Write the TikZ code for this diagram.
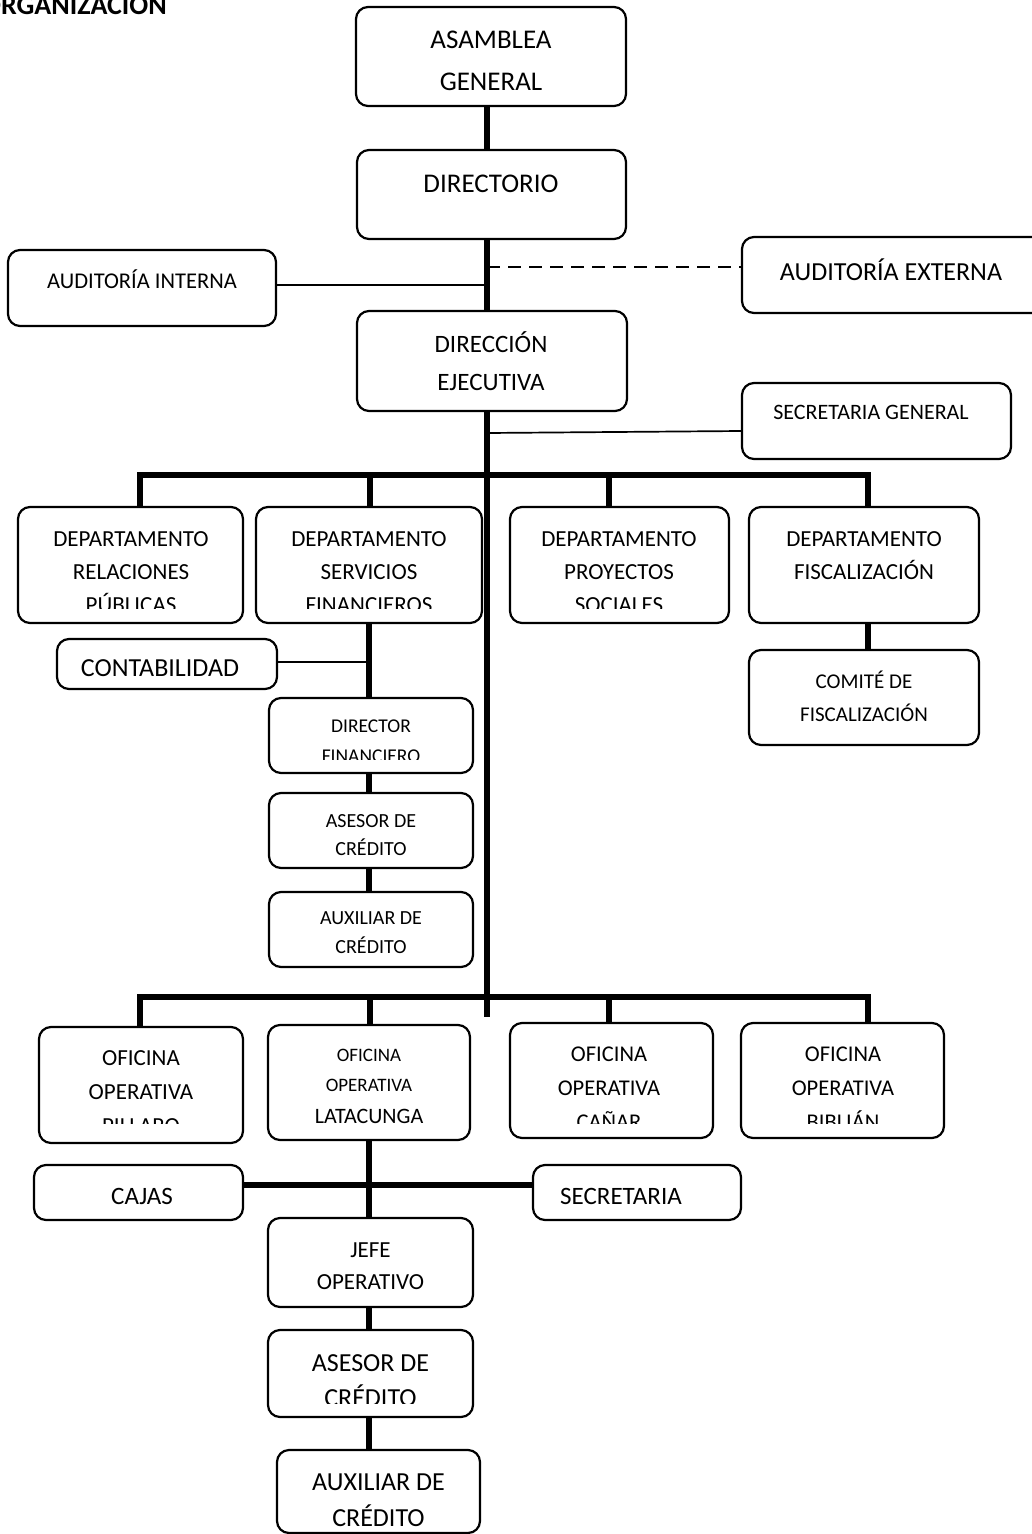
\documentclass[tikz,border=0pt]{standalone}
\usepackage{fontspec}
\setmainfont{Carlito}
\usepackage{tikz}
\newcommand{\setfs}[2]{\fontsize{#1}{#2}\selectfont}

\begin{document}
\begin{tikzpicture}[x=1pt,y=-1pt,
  box/.style={draw, rounded corners=12pt, line width=2.2pt, inner sep=0pt},
  txt/.style={align=center, inner sep=0pt},
  thk/.style={line width=6.5pt},
  thn/.style={line width=1.7pt}]
\useasboundingbox (0,0) rectangle (1031,1534);

% TITLE
  \node[anchor=base east, inner sep=0pt, font=\bfseries\setfs{28}{32}] (titulo) at (167,14) {ORGANIZACIÓN};

% TOP LEVELS
  \node[box, minimum width=270pt, minimum height=99pt] (asamblea) at (491,56.5) {};
  \node[txt, font=\setfs{27}{42}] (asamblea-t) at (491,61) {ASAMBLEA\\GENERAL};
  \node[box, minimum width=269pt, minimum height=89pt] (directorio) at (491.5,194.5) {};
  \node[txt, font=\setfs{27}{32}] (directorio-t) at (491,184) {DIRECTORIO};
  \node[box, minimum width=270pt, minimum height=100pt] (direccion) at (492,361) {};
  \node[txt, font=\setfs{25}{38}] (direccion-t) at (491,361) {DIRECCIÓN\\EJECUTIVA};

% STAFF
  \node[box, minimum width=268pt, minimum height=76pt] (interna) at (142,288) {};
  \node[txt, font=\setfs{22.5}{28}] (interna-t) at (142,279) {AUDITORÍA INTERNA};
  \node[box, minimum width=303pt, minimum height=76pt] (externa) at (893.5,275) {};
  \node[txt, font=\setfs{26}{30}] (externa-t) at (891,270) {AUDITORÍA EXTERNA};
  \node[box, minimum width=269pt, minimum height=76pt] (secgen) at (876.5,421) {};
  \node[txt, font=\setfs{22}{28}] (secgen-t) at (871,412) {SECRETARIA GENERAL};

% DEPARTMENTS
  \node[box, minimum width=225pt, minimum height=116pt] (relpub) at (130.5,565) {};
  \node[box, minimum width=226pt, minimum height=116pt] (servfin) at (369,565) {};
  \node[box, minimum width=219pt, minimum height=116pt] (proyectos) at (619.5,565) {};
  \node[box, minimum width=230pt, minimum height=116pt] (fisc) at (864,565) {};
  \begin{scope}
    \clip (0,500) rectangle (1031,608);
    \node[txt, font=\setfs{23}{33}] (relpub-t) at (131,572) {DEPARTAMENTO\\RELACIONES\\PÚBLICAS};
    \node[txt, font=\setfs{23}{33}] (servfin-t) at (369,572) {DEPARTAMENTO\\SERVICIOS\\FINANCIEROS};
    \node[txt, font=\setfs{23}{33}] (proyectos-t) at (619,572) {DEPARTAMENTO\\PROYECTOS\\SOCIALES};
  \end{scope}
  \node[txt, font=\setfs{23}{33}] (fisc-t) at (864,555.5) {DEPARTAMENTO\\FISCALIZACIÓN};
  \node[box, minimum width=230pt, minimum height=95pt] (comite) at (864,697.5) {};
  \node[txt, font=\setfs{21}{33}] (comite-t) at (864,696.5) {COMITÉ DE\\FISCALIZACIÓN};

% FINANCE BRANCH
  \node[box, minimum width=220pt, minimum height=50pt] (contab) at (167,664) {};
  \node[txt, font=\setfs{26}{30}] (contab-t) at (160,668) {CONTABILIDAD};
  \node[box, minimum width=204pt, minimum height=75pt] (dirfin) at (371,735.5) {};
  \begin{scope}
    \clip (269,698) rectangle (473,759.5);
    \node[txt, font=\setfs{19.5}{30}] (dirfin-t) at (371,741) {DIRECTOR\\FINANCIERO};
  \end{scope}
  \node[box, minimum width=204pt, minimum height=75pt] (asesor1) at (371,830.5) {};
  \node[txt, font=\setfs{20}{28}] (asesor1-t) at (371,835) {ASESOR DE\\CRÉDITO};
  \node[box, minimum width=204pt, minimum height=75pt] (aux1) at (371,929.5) {};
  \node[txt, font=\setfs{20}{29}] (aux1-t) at (371,932.5) {AUXILIAR DE\\CRÉDITO};

% OFFICES
  \node[box, minimum width=204pt, minimum height=116pt] (pillaro) at (141,1085) {};
  \node[box, minimum width=202pt, minimum height=115pt] (latacunga) at (369,1082.5) {};
  \node[box, minimum width=203pt, minimum height=115pt] (canar) at (611.5,1080.5) {};
  \node[box, minimum width=203pt, minimum height=115pt] (biblian) at (842.5,1080.5) {};
  \begin{scope}
    \clip (0,1015) rectangle (1031,1123.5);
    \node[txt, font=\setfs{23}{34}] (pillaro-t) at (141,1092) {OFICINA\\OPERATIVA\\PILLARO};
    \node[txt, font=\setfs{22.5}{34}] (canar-t) at (609,1088) {OFICINA\\OPERATIVA\\CAÑAR};
    \node[txt, font=\setfs{22.5}{34}] (biblian-t) at (843,1088) {OFICINA\\OPERATIVA\\BIBLIÁN};
  \end{scope}
  \node[txt, font=\setfs{19}{30}] (latacunga-t) at (369,1086.5) {OFICINA\\OPERATIVA\\[2pt]{\setfs{22}{30}LATACUNGA}};

% LATACUNGA BRANCH
  \node[box, minimum width=209pt, minimum height=55pt] (cajas) at (138.5,1192.5) {};
  \node[txt, font=\setfs{25}{30}] (cajas-t) at (142,1196) {CAJAS};
  \node[box, minimum width=208pt, minimum height=55pt] (secret) at (637,1192.5) {};
  \node[txt, font=\setfs{25}{30}] (secret-t) at (621,1196) {SECRETARIA};
  \node[box, minimum width=205pt, minimum height=89pt] (jefe) at (370.5,1262.5) {};
  \node[txt, font=\setfs{23}{32}] (jefe-t) at (370.5,1266) {JEFE\\OPERATIVO};
  \node[box, minimum width=205pt, minimum height=87pt] (asesor2) at (370.5,1373.5) {};
  \begin{scope}
    \clip (268,1330) rectangle (473,1403);
    \node[txt, font=\setfs{26}{35}] (asesor2-t) at (370.5,1380.5) {ASESOR DE\\CRÉDITO};
  \end{scope}
  \node[box, minimum width=203pt, minimum height=83pt] (aux2) at (378.5,1491.5) {};
  \begin{scope}
    \clip (277,1450) rectangle (480,1526);
    \node[txt, font=\setfs{26}{36}] (aux2-t) at (378.5,1500) {AUXILIAR DE\\CRÉDITO};
  \end{scope}

% TRUNK
  \coordinate (trunk) at (487,1017);
  \draw[thk] (asamblea.south -| trunk) -- (directorio.north -| trunk);
  \draw[thk] (directorio.south -| trunk) -- (direccion.north -| trunk);
  \draw[thk] (direccion.south -| trunk) -- (trunk);

% STAFF LINES
  \draw[thn] ([yshift=3pt]interna.east) -- ([yshift=3pt]interna.east -| trunk);
  \draw[line width=2.7pt, dash pattern=on 13pt off 8pt] ([yshift=8pt]externa.west -| trunk) -- ([yshift=8pt]externa.west);
  \draw[thn] ([yshift=-12pt]secgen.west -| trunk) -- ([yshift=-10pt]secgen.west);

% BUS 1
  \coordinate (b1) at (140,475);
  \coordinate (b2) at (370,475);
  \coordinate (b3) at (609,475);
  \coordinate (b4) at (868,475);
  \draw[thk] (b1 |- relpub.north) -- (b1) -- (b4) -- (b4 |- fisc.north);
  \draw[thk] (b2) -- (b2 |- servfin.north);
  \draw[thk] (b3) -- (b3 |- proyectos.north);
  \draw[thk] (b4 |- fisc.south) -- (b4 |- comite.north);

% FINANCE LINES
  \draw[thn] ([yshift=2pt]contab.east) -- ([yshift=2pt]contab.east -| servfin.south);
  \draw[thk] (servfin.south) -- (servfin.south |- dirfin.north);
  \draw[thk] (servfin.south |- dirfin.south) -- (servfin.south |- asesor1.north);
  \draw[thk] (servfin.south |- asesor1.south) -- (servfin.south |- aux1.north);

% BUS 2
  \coordinate (c1) at (140,997);
  \coordinate (c2) at (370,997);
  \coordinate (c3) at (609,997);
  \coordinate (c4) at (868,997);
  \draw[thk] (c1 |- pillaro.north) -- (c1) -- (c4) -- (c4 |- biblian.north);
  \draw[thk] (c2) -- (c2 |- latacunga.north);
  \draw[thk] (c3) -- (c3 |- canar.north);

% LATACUNGA LINES
  \draw[thk] (latacunga.south) -- (latacunga.south |- jefe.north);
  \draw[thk] ([yshift=7.5pt]cajas.east) -- ([yshift=7.5pt]secret.west);
  \draw[thk] (latacunga.south |- jefe.south) -- (latacunga.south |- asesor2.north);
  \draw[thk] (latacunga.south |- asesor2.south) -- (latacunga.south |- aux2.north);

\end{tikzpicture}
\end{document}
